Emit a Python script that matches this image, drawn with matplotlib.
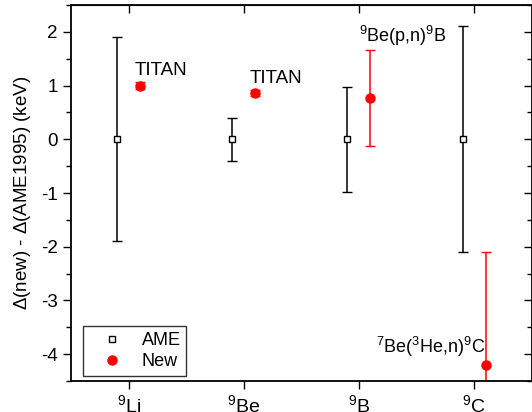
import matplotlib.pyplot as plt
import numpy as np
from matplotlib.ticker import MultipleLocator
from matplotlib.lines import Line2D

plt.rcParams['font.family'] = ['Liberation Sans', 'DejaVu Sans']
plt.rcParams['mathtext.fontset'] = 'custom'
plt.rcParams['mathtext.rm'] = 'Liberation Sans'
plt.rcParams['mathtext.it'] = 'Liberation Sans'
plt.rcParams['axes.unicode_minus'] = False

# data
nuclides = ['$^9$Li', '$^9$Be', '$^9$B', '$^9$C']
ame_val = [0, 0, 0, 0]
ame_err = [1.9, 0.4, 0.98, 2.1]
new_val = [1.0, 0.86, 0.77, -4.2]
new_err = [0.07, 0.06, 0.9, 2.1]
notes = ['TITAN', 'TITAN', '$^9$Be(p,n)$^9$B', '$^7$Be($^3$He,n)$^9$C']

x = np.arange(1, len(nuclides) + 1)

fig = plt.figure(figsize=(5.32, 4.12), dpi=100)
ax = fig.add_axes([0.1335, 0.075, 0.866, 0.913])

ax.errorbar(x - 0.1, ame_val, yerr=ame_err, fmt='s', mfc='white', mec='black',
            ms=5, mew=1, ecolor='black', elinewidth=1.1, capsize=3.5)
ax.errorbar(x + 0.1, new_val, yerr=new_err, fmt='o', color='red',
            ms=6.5, ecolor='red', elinewidth=1.1, capsize=3.5)

# annotations
ax.text(1.05, 1.12, notes[0], fontsize=13.5, ha='left', va='bottom')
ax.text(2.05, 0.97, notes[1], fontsize=13.5, ha='left', va='bottom')
ax.text(3.0, 1.7, notes[2], fontsize=13, ha='left', va='bottom')
ax.text(4.1, -4.08, notes[3], fontsize=13, ha='right', va='bottom')

ax.set_xlim(0.5, 4.5)
ax.set_ylim(-4.5, 2.5)
ax.set_xticks(x)
ax.set_xticklabels(nuclides, fontsize=14)
ax.yaxis.set_major_locator(MultipleLocator(1))
ax.yaxis.set_minor_locator(MultipleLocator(0.5))
ax.tick_params(axis='y', which='major', direction='out', length=6, width=1, labelsize=13.5)
ax.tick_params(axis='y', which='minor', direction='out', length=3.5, width=1)
ax.tick_params(axis='x', direction='out', length=6, width=1)
ax.set_ylabel(r'$\Delta$(new) - $\Delta$(AME1995) (keV)', fontsize=13.5, labelpad=6)

top = ax.secondary_xaxis('top')
top.set_xticks(x)
top.set_xticklabels([])
top.tick_params(direction='in', length=6, width=1)
right = ax.secondary_yaxis('right')
right.yaxis.set_major_locator(MultipleLocator(1))
right.yaxis.set_minor_locator(MultipleLocator(0.5))
right.set_yticklabels([])
right.tick_params(which='major', direction='in', length=6, width=1)
right.tick_params(which='minor', direction='in', length=3.5, width=1)

for s in ax.spines.values():
    s.set_linewidth(1.3)

handles = [Line2D([], [], ls='none', marker='s', mfc='white', mec='black', ms=5, mew=1),
           Line2D([], [], ls='none', marker='o', color='red', ms=6.5)]
leg = ax.legend(handles, ['AME', 'New'], loc='lower left', fontsize=13, frameon=True,
                fancybox=False, edgecolor='black', handletextpad=0.35, handlelength=2.6,
                borderpad=0.3, labelspacing=0.25, borderaxespad=0,
                bbox_to_anchor=(0.026, 0.014))
leg.get_frame().set_linewidth(1)

fig.savefig('out.png', dpi=100)
